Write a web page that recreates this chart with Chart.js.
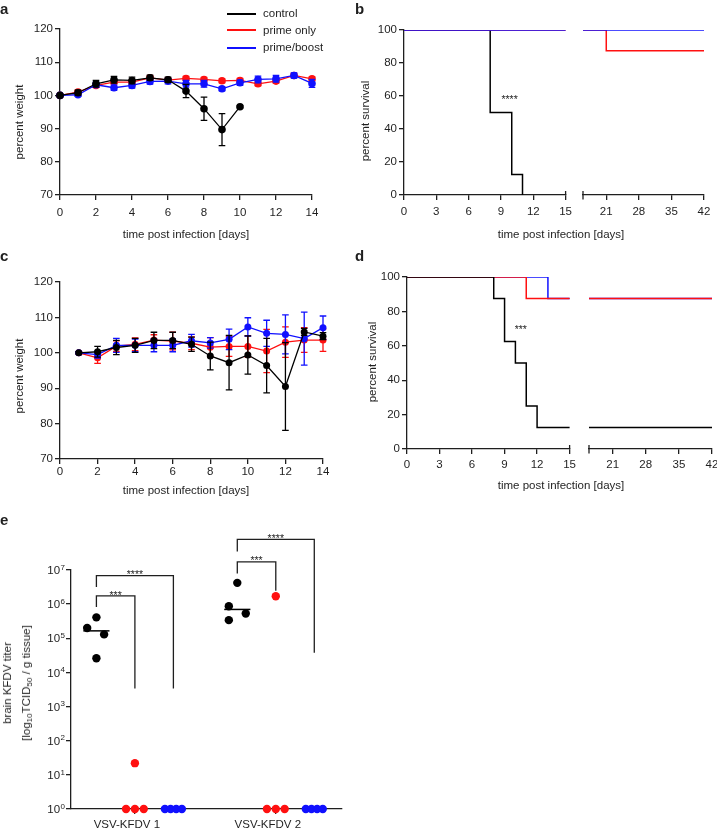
<!DOCTYPE html>
<html>
<head>
<meta charset="utf-8">
<script src="https://cdn.jsdelivr.net/npm/chart.js@4.4.1/dist/chart.umd.min.js"></script>
<style>
  body { margin: 0; background: #fff; font-family: "Liberation Sans", Arial, sans-serif; color: #1f1f1f; }
  #page { position: relative; width: 717px; height: 831px; overflow: hidden; }
  canvas { position: absolute; }
  .panel { position: absolute; font-size: 15px; font-weight: bold; line-height: 15px; }
  .ttl { position: absolute; font-size: 11.5px; line-height: 14px; white-space: nowrap; transform: translate(-50%, -50%); }
  .vert { transform: translate(-50%, -50%) rotate(-90deg); text-align: center; }
  .vert.two { line-height: 19px; }
  .vert sub { font-size: 8px; line-height: 0; vertical-align: -2px; }
  .key { position: absolute; left: 227px; font-size: 11.5px; line-height: 14px; white-space: nowrap; }
  .key i { display: inline-block; width: 29px; height: 2px; vertical-align: middle; margin-right: 7px; }
</style>
</head>
<body>
<div id="page">
  <canvas id="ca"></canvas>
  <canvas id="cb1"></canvas>
  <canvas id="cb2"></canvas>
  <canvas id="cc"></canvas>
  <canvas id="cd1"></canvas>
  <canvas id="cd2"></canvas>
  <canvas id="ce"></canvas>

  <div class="panel" style="left:0px;top:0.6px">a</div>
  <div class="panel" style="left:355px;top:0.6px">b</div>
  <div class="panel" style="left:0px;top:248.3px">c</div>
  <div class="panel" style="left:355px;top:248.3px">d</div>
  <div class="panel" style="left:0px;top:512.3px">e</div>

  <div class="key" style="top:5.7px"><i style="background:#000"></i>control</div>
  <div class="key" style="top:22.5px"><i style="background:#ff1010"></i>prime only</div>
  <div class="key" style="top:40.3px"><i style="background:#1010ff"></i>prime/boost</div>

  <div class="ttl" style="left:186px;top:234px">time post infection [days]</div>
  <div class="ttl vert" style="left:19px;top:122px">percent weight</div>
  <div class="ttl" style="left:561px;top:234px">time post infection [days]</div>
  <div class="ttl vert" style="left:365px;top:121px">percent survival</div>
  <div class="ttl" style="left:186px;top:490px">time post infection [days]</div>
  <div class="ttl vert" style="left:19px;top:376px">percent weight</div>
  <div class="ttl" style="left:561px;top:485px">time post infection [days]</div>
  <div class="ttl vert" style="left:372px;top:362px">percent survival</div>
  <div class="ttl vert two" style="left:16.5px;top:683px">brain KFDV titer<br>[log<sub>10</sub>TCID<sub>50</sub> / g tissue]</div>
</div>

<script>
// ---------- data ----------

// panel a: body weight (mean, sd), days 0-14
const daysA = [0, 1, 2, 3, 4, 5, 6, 7, 8, 9, 10, 11, 12, 13, 14];
const weightCtrlA = [100, 100.8, 103.5, 104.7, 104.5, 105.3, 104.7, 101.3, 96.0, 89.7, 96.6];
const sdCtrlA = [0.3, 0.8, 1.0, 1.0, 1.0, 0.8, 0.8, 2.0, 3.5, 4.8, 0.3];
const weightPrimeA = [100, 101.0, 103.0, 104.0, 104.0, 105.3, 104.6, 105.1, 104.8, 104.4, 104.5, 103.5, 104.3, 106.0, 105.0];
const sdPrimeA = [0.3, 0.6, 0.6, 0.6, 0.6, 0.6, 0.6, 0.6, 0.6, 0.6, 0.6, 0.6, 0.6, 0.6, 0.6];
const weightBoostA = [100, 100.2, 103.2, 102.3, 103.0, 104.2, 104.3, 103.5, 103.5, 102.0, 103.8, 104.8, 105.0, 106.0, 103.6];
const sdBoostA = [0.3, 0.5, 0.8, 0.8, 0.8, 0.8, 0.8, 1.0, 1.0, 0.6, 0.8, 1.0, 1.0, 0.8, 1.2];

// panel b: survival (Kaplan-Meier steps)
const survDaysCtrlB = [0, 8, 10, 11];
const survCtrlB = [100, 50, 12.5, 0];
const survDaysPrimeB = [0, 21, 42];
const survPrimeB = [100, 87.5, 87.5];
const survDaysBoostB = [0, 42];
const survBoostB = [100, 100];

// panel c: body weight (mean, sd), days 1-14
const daysC = [1, 2, 3, 4, 5, 6, 7, 8, 9, 10, 11, 12, 13, 14];
const weightCtrlC = [100, 100.3, 101.5, 102.1, 103.5, 103.5, 102.4, 99.1, 97.2, 99.4, 96.4, 90.5, 105.9, 104.7];
const sdCtrlC = [0.3, 1.5, 2.0, 2.0, 2.3, 2.3, 2.0, 3.9, 7.7, 5.4, 7.7, 12.4, 1.0, 1.0];
const weightPrimeC = [100, 98.6, 101.9, 102.4, 103.6, 103.3, 102.7, 101.6, 101.8, 101.8, 100.5, 103.0, 103.6, 103.6];
const sdPrimeC = [0.3, 1.6, 1.5, 1.8, 1.5, 2.5, 1.8, 2.7, 2.8, 3.0, 6.1, 4.3, 3.5, 3.2];
const weightBoostC = [100, 99.5, 102.1, 102.1, 102.1, 102.1, 103.4, 102.8, 103.8, 107.3, 105.5, 105.2, 104.0, 107.1];
const sdBoostC = [0.3, 1.0, 2.0, 1.8, 1.8, 1.8, 1.8, 1.5, 2.9, 2.6, 3.7, 5.5, 7.5, 3.3];

// panel d: survival
const survDaysCtrlD = [0, 8, 9, 10, 11, 12, 42];
const survCtrlD = [100, 87.5, 62.5, 50, 25, 12.5, 12.5];
const survDaysPrimeD = [0, 11, 42];
const survPrimeD = [100, 87.5, 87.5];
const survDaysBoostD = [0, 13, 42];
const survBoostD = [100, 87.5, 87.5];

const survTicksEarly = [0, 3, 6, 9, 12, 15];
const survTicksLate = [21, 28, 35, 42];

// panel e: brain titers, one row per challenge virus
const titerGroups = ['VSV-KFDV 1', 'VSV-KFDV 2'];
const titerCtrl = [[2.0e5, 4.1e5, 1.3e5, 2.6e4], [8.7e5, 4.2e6, 5.3e5, 3.4e5]];
const titerPrime = [[1, 22, 1, 1], [1, 1.7e6, 1, 1]];
const titerBoost = [[1, 1, 1, 1], [1, 1, 1, 1]];
const jitterCtrl = [[-0.24, 0, 0.2, 0], [-0.22, 0, 0.22, -0.22]];
const jitterPrime = [-0.23, 0, 0, 0.23];
const jitterBoost = [-0.22, -0.073, 0.073, 0.22];
const titerPowers = [0, 1, 2, 3, 4, 5, 6, 7];

// significance brackets: group, compared subgroup (1 prime, 2 boost), top, left foot, right foot
const sigGroup = [0, 0, 1, 1];
const sigTo = [1, 2, 1, 2];
const sigTop = [1.74e6, 6.8e6, 1.74e7, 7.9e7];
const sigFootL = [8.3e5, 3.2e6, 7.9e6, 3.5e7];
const sigFootR = [3.4e3, 3.4e3, 2.45e6, 3.8e4];
const sigLabel = ['***', '****', '***', '****'];

// ---------- style ----------
const FAMILY = '"Liberation Sans", Arial, Helvetica, sans-serif';
const INK = '#1f1f1f';
const C_CTRL = '#000000';
const C_PRIME = '#ff1010';
const C_BOOST = '#1010ff';
const GROUP_GAP = 3.66;

Chart.defaults.font.family = FAMILY;

function put(id, left, top, w, h) {
    const c = document.getElementById(id);
    c.width = w;
    c.height = h;
    c.style.left = left + 'px';
    c.style.top = top + 'px';
    return c;
}

function axis(o) {
    const a = {
        type: o.type || 'linear',
        min: o.min,
        max: o.max,
        display: o.display !== false,
        border: { color: INK, width: 1.3 },
        grid: { drawOnChartArea: false, color: INK, lineWidth: 1.3, tickLength: 5 },
        ticks: {
            stepSize: o.step, color: INK, font: { family: FAMILY, size: 11.5 },
            padding: o.pad, maxRotation: 0, autoSkip: false,
            display: o.labels !== false, labelOffset: o.labelOffset || 0
        },
        afterFit: s => {
            if (o.vertical) s.width = o.size
            else s.height = o.size
        }
    };
    if (o.values) a.afterBuildTicks = s => { s.ticks = o.values.map(v => ({ value: v })) };
    if (o.callback) a.ticks.callback = o.callback;
    return a;
}

function base(pad, scales) {
    return {
        responsive: false,
        animation: false,
        events: [],
        layout: { padding: pad },
        scales: scales,
        plugins: { legend: { display: false }, tooltip: { enabled: false } }
    };
}

function weightSet(days, mean, sd, color, r) {
    return {
        data: mean.map((v, i) => ({ x: days[i], y: v })),
        sd: sd,
        borderColor: color,
        backgroundColor: color,
        borderWidth: 1.3,
        pointRadius: r,
        pointBorderWidth: 0,
        pointBackgroundColor: color,
        tension: 0,
        clip: false
    };
}

function survSet(days, surv, color) {
    return {
        data: surv.map((v, i) => ({ x: days[i], y: v })),
        borderColor: color,
        borderWidth: 1.5,
        pointRadius: 0,
        stepped: true,
        fill: false
    };
}

// error bars drawn just under each dataset's line and dots
const errorBars = {
    id: 'errorBars',
    beforeDatasetDraw(chart, args) {
        const ds = chart.data.datasets[args.index];
        if (!ds.sd) return;
        const ctx = chart.ctx, xs = chart.scales.x, ys = chart.scales.y;
        ctx.save();
        ctx.strokeStyle = ds.borderColor;
        ctx.lineWidth = 1.3;
        ds.data.forEach((p, i) => {
            const x = xs.getPixelForValue(p.x);
            const hi = ys.getPixelForValue(p.y + ds.sd[i]);
            const lo = ys.getPixelForValue(p.y - ds.sd[i]);
            ctx.beginPath();
            ctx.moveTo(x, hi); ctx.lineTo(x, lo);
            ctx.moveTo(x - 3.3, hi); ctx.lineTo(x + 3.3, hi);
            ctx.moveTo(x - 3.3, lo); ctx.lineTo(x + 3.3, lo);
            ctx.stroke();
        });
        ctx.restore();
    }
};

// small text marks (asterisks) placed in data units, dy = pixel shift of glyph centre
function notes(items) {
    return {
        id: 'notes',
        afterDatasetsDraw(chart) {
            const ctx = chart.ctx;
            ctx.save();
            ctx.fillStyle = INK;
            ctx.textAlign = 'center';
            ctx.textBaseline = 'alphabetic';
            ctx.font = '10.5px ' + FAMILY;
            items.forEach(n => {
                const x = chart.scales.x.getPixelForValue(n.x);
                const y = chart.scales.y.getPixelForValue(n.y) + (n.dy || 0) + 5.8;
                ctx.fillText(n.text, x, y);
            });
            ctx.restore();
        }
    };
}

// axis break tick: at the end of the first segment, at the start of the second
function breakMark(side) {
    return {
        id: 'breakMark',
        afterDraw(chart) {
            const xs = chart.scales.x, ctx = chart.ctx;
            const x = xs.getPixelForValue(side === 'max' ? xs.max : xs.min);
            const y = chart.chartArea.bottom;
            ctx.save();
            ctx.strokeStyle = INK;
            ctx.lineWidth = 1.3;
            ctx.beginPath();
            ctx.moveTo(x, y - 4);
            ctx.lineTo(x, side === 'max' ? y : y + 4.5);
            ctx.stroke();
            ctx.restore();
        }
    };
}

// 10^n tick labels for the log axis
const powerTicks = {
    id: 'powerTicks',
    afterDraw(chart) {
        const ys = chart.scales.y, ctx = chart.ctx;
        ctx.save();
        ctx.fillStyle = INK;
        ctx.textAlign = 'right';
        ctx.textBaseline = 'middle';
        ys.ticks.forEach(t => {
            const py = ys.getPixelForValue(t.value);
            const e = String(Math.round(Math.log10(t.value)));
            const xr = ys.right - 6;
            ctx.font = '8px ' + FAMILY;
            ctx.fillText(e, xr, py - 2.5);
            const w = ctx.measureText(e).width;
            ctx.font = '11.5px ' + FAMILY;
            ctx.fillText('10', xr - w - 0.5, py + 1);
        });
        ctx.restore();
    }
};

// ---------- panel a ----------
new Chart(put('ca', 0, 0, 340, 245), {
    type: 'line',
    data: {
        datasets: [
            weightSet(daysA, weightCtrlA, sdCtrlA, C_CTRL, 3.8),
            weightSet(daysA, weightBoostA, sdBoostA, C_BOOST, 3.8),
            weightSet(daysA, weightPrimeA, sdPrimeA, C_PRIME, 3.8)
        ]
    },
    options: base({ top: 29, right: 28 }, {
        x: axis({ min: 0, max: 14, step: 2, size: 50, pad: 6 }),
        y: axis({ min: 70, max: 120, step: 10, size: 60, pad: 2, vertical: true })
    }),
    plugins: [errorBars]
});

// ---------- panel b ----------
const setsB = () => [
    survSet(survDaysBoostB, survBoostB, C_BOOST),
    survSet(survDaysPrimeB, survPrimeB, C_PRIME),
    survSet(survDaysCtrlB, survCtrlB, C_CTRL)
];

new Chart(put('cb1', 355, 0, 222, 245), {
    type: 'line',
    data: { datasets: setsB() },
    options: base({ top: 30, right: 7 }, {
        x: axis({ min: 0, max: 15, values: survTicksEarly, size: 50, pad: 5 }),
        y: axis({ min: 0, max: 100, step: 20, size: 49, pad: 2, vertical: true })
    }),
    plugins: [breakMark('max'), notes([{ x: 9.8, y: 59.4, text: '****' }])]
});

new Chart(put('cb2', 577, 0, 145, 245), {
    type: 'line',
    data: { datasets: setsB() },
    options: base({ top: 30, left: 6, right: 18 }, {
        x: axis({ min: 16, max: 42, values: survTicksLate, size: 50, pad: 5 }),
        y: axis({ min: 0, max: 100, display: false })
    }),
    plugins: [breakMark('min')]
});

// ---------- panel c ----------
new Chart(put('cc', 0, 245, 340, 255), {
    type: 'line',
    data: {
        datasets: [
            weightSet(daysC, weightCtrlC, sdCtrlC, C_CTRL, 3.5),
            weightSet(daysC, weightBoostC, sdBoostC, C_BOOST, 3.5),
            weightSet(daysC, weightPrimeC, sdPrimeC, C_PRIME, 3.5)
        ]
    },
    options: base({ top: 37, right: 17 }, {
        x: axis({ min: 0, max: 14, step: 2, size: 41, pad: 1 }),
        y: axis({ min: 70, max: 120, step: 10, size: 60, pad: 2, vertical: true })
    }),
    plugins: [errorBars]
});

// ---------- panel d ----------
const setsD = () => [
    survSet(survDaysCtrlD, survCtrlD, C_CTRL),
    survSet(survDaysPrimeD, survPrimeD, C_PRIME),
    survSet(survDaysBoostD, survBoostD, C_BOOST)
];

new Chart(put('cd1', 355, 245, 225, 255), {
    type: 'line',
    data: { datasets: setsD() },
    options: base({ top: 32, right: 5 }, {
        x: axis({ min: 0, max: 15, values: survTicksEarly, size: 51, pad: 4 }),
        y: axis({ min: 0, max: 100, step: 20, size: 52, pad: 2, vertical: true })
    }),
    plugins: [breakMark('max'), notes([{ x: 10.5, y: 71, text: '***' }])]
});

new Chart(put('cd2', 580, 245, 145, 255), {
    type: 'line',
    data: { datasets: setsD() },
    options: base({ top: 32, left: 9, right: 13 }, {
        x: axis({ min: 16, max: 42, values: survTicksLate, size: 51, pad: 4 }),
        y: axis({ min: 0, max: 100, display: false })
    }),
    plugins: [breakMark('min')]
});

// ---------- panel e ----------
function dotSet(values, jitter, sub, color) {
    const pts = [];
    values.forEach((grp, g) => {
        grp.forEach((v, i) => {
            const j = Array.isArray(jitter[0]) ? jitter[g][i] : jitter[i];
            pts.push({ x: g * GROUP_GAP + sub + j, y: v });
        });
    });
    return {
        data: pts, showLine: false, pointRadius: 4.2, pointBorderWidth: 0,
        pointBackgroundColor: color, backgroundColor: color, borderColor: color, clip: false
    };
}

function median(arr) {
    const s = arr.slice().sort((a, b) => a - b);
    const m = s.length / 2;
    return s.length % 2 ? s[Math.floor(m)] : (s[m - 1] + s[m]) / 2;
}

const lineStyle = { showLine: true, pointRadius: 0, borderColor: INK, borderWidth: 1.3, tension: 0, clip: false };

const medianSets = titerCtrl.map((grp, g) => Object.assign({
    data: [
        { x: g * GROUP_GAP - 1 - 0.34, y: median(grp) },
        { x: g * GROUP_GAP - 1 + 0.34, y: median(grp) }
    ]
}, lineStyle, { borderColor: '#000', borderWidth: 1.5 }));

const bracketSets = sigGroup.map((g, k) => {
    const xl = g * GROUP_GAP - 1;
    const xr = g * GROUP_GAP - 1 + sigTo[k];
    return Object.assign({
        data: [
            { x: xl, y: sigFootL[k] }, { x: xl, y: sigTop[k] },
            { x: xr, y: sigTop[k] }, { x: xr, y: sigFootR[k] }
        ]
    }, lineStyle);
});

const starNotes = sigGroup.map((g, k) => ({
    x: g * GROUP_GAP - 1 + sigTo[k] / 2,
    y: sigTop[k],
    dy: -3.2,
    text: sigLabel[k]
}));

new Chart(put('ce', 0, 500, 360, 331), {
    type: 'scatter',
    data: {
        datasets: [
            ...bracketSets,
            ...medianSets,
            dotSet(titerCtrl, jitterCtrl, -1, C_CTRL),
            dotSet(titerPrime, jitterPrime, 0, C_PRIME),
            dotSet(titerBoost, jitterBoost, 1, C_BOOST)
        ]
    },
    options: base({ top: 70, right: 18 }, {
        x: axis({
            min: -1.66, max: 5.38, values: titerGroups.map((n, g) => g * GROUP_GAP),
            size: 22, pad: 4, labelOffset: -8, callback: (v, i) => titerGroups[i]
        }),
        y: axis({
            type: 'logarithmic', min: 1, max: 1e7, values: titerPowers.map(p => Math.pow(10, p)),
            size: 71, pad: 2, vertical: true, labels: false
        })
    }),
    plugins: [powerTicks, notes(starNotes)]
});
</script>
</body>
</html>
